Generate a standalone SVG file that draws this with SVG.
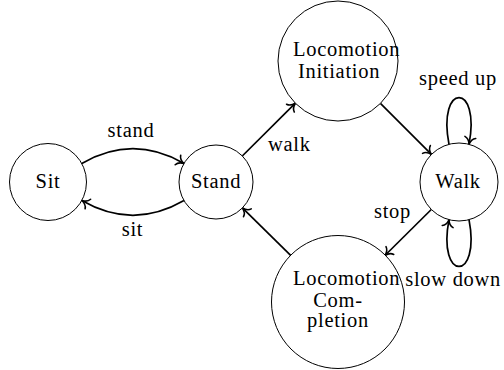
<svg xmlns="http://www.w3.org/2000/svg" width="504" height="370" viewBox="0 0 504 370">
  <style>
    .state { fill: #ffffff; stroke: #000000; stroke-width: 1; }
    .txt { font-family: 'Liberation Serif', 'DejaVu Serif', 'Times New Roman', serif; font-size: 20.5px; letter-spacing: 0.7px; fill: #000000; }
    .mid { text-anchor: middle; }
    .end { text-anchor: end; }
    .edge { fill: none; stroke: #000000; stroke-width: 1.7; marker-end: url(#to); }
  </style>
  <defs>
    <marker id="to" markerUnits="userSpaceOnUse" markerWidth="16" markerHeight="16" viewBox="-10 -8 16 16" refX="0" refY="0" orient="auto" overflow="visible">
      <path d="M -7 -5.5 C -6 -2.2 -2.2 -0.5 0 0 C -2.2 0.5 -6 2.2 -7 5.5" fill="none" stroke="#000000" stroke-width="1.6" stroke-linecap="round" stroke-linejoin="round"/>
    </marker>
  </defs>

  <!-- connectors -->
  <g id="connectors">
    <path class="edge" d="M 81.8 163.5 C 116.4 143.5 149.4 143.5 184 163.5"/>
    <text class="txt mid" x="131" y="137">stand</text>
    <path class="edge" d="M 184 200.5 C 149.4 220.5 116.4 220.5 81.8 200.5"/>
    <text class="txt mid" x="132.5" y="236">sit</text>
    <path class="edge" d="M 242.3 156 L 295.4 103.2"/>
    <text class="txt" x="268" y="151">walk</text>
    <path class="edge" d="M 380.4 103.4 L 431.4 154.4"/>
    <path class="edge" d="M 449 144.3 C 437 82 481 82 469 144.3"/>
    <text class="txt mid" x="458" y="85">speed up</text>
    <path class="edge" d="M 469 219.7 C 481 282 437 282 449 219.7"/>
    <text class="txt end" x="501" y="286" letter-spacing="0">slow down</text>
    <path class="edge" d="M 431.3 209.5 L 384.9 255.5"/>
    <text class="txt end" x="411" y="218">stop</text>
    <path class="edge" d="M 290.9 255.7 L 242.4 207.9"/>
  </g>

  <!-- states -->
  <g id="sit">
    <circle class="state" cx="48" cy="182" r="38.5"/>
    <text class="txt mid" x="48" y="188">Sit</text>
  </g>
  <g id="stand">
    <circle class="state" cx="216" cy="182" r="37"/>
    <text class="txt mid" x="216" y="188">Stand</text>
  </g>
  <g id="locomotion-initiation">
    <circle class="state" cx="338" cy="61" r="60"/>
    <text class="txt" x="293" y="56">Locomotion</text>
    <text class="txt mid" x="339" y="78">Initiation</text>
  </g>
  <g id="walk">
    <circle class="state" cx="459" cy="182" r="39"/>
    <text class="txt mid" x="458" y="188">Walk</text>
  </g>
  <g id="locomotion-completion">
    <circle class="state" cx="338" cy="302" r="66.5"/>
    <text class="txt" x="293" y="285">Locomotion</text>
    <text class="txt mid" x="338" y="306.5">Com-</text>
    <text class="txt mid" x="338" y="327">pletion</text>
  </g>
</svg>
